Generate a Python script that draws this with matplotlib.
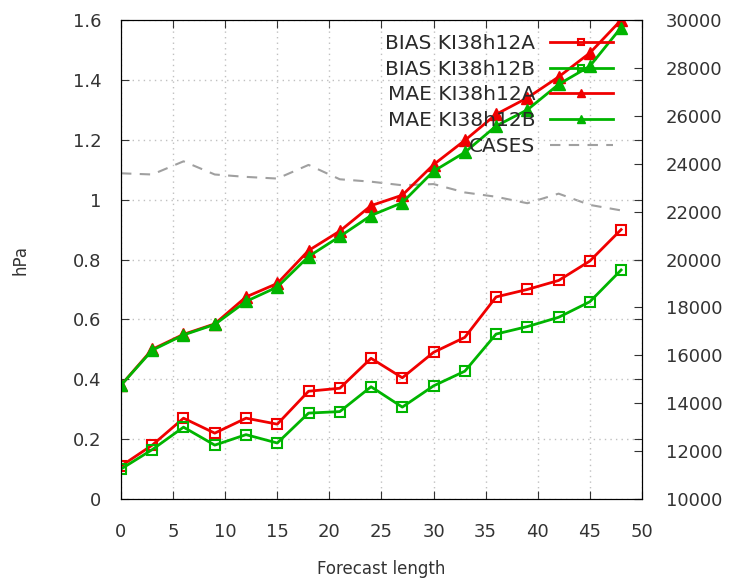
import matplotlib
matplotlib.use("Agg")
import matplotlib.pyplot as plt

# forecast hours
hours = [0, 3, 6, 9, 12, 15, 18, 21, 24, 27, 30, 33, 36, 39, 42, 45, 48]

bias_a = [0.11, 0.18, 0.27, 0.22, 0.27, 0.25, 0.36, 0.37, 0.47, 0.405, 0.49, 0.54,
          0.675, 0.70, 0.73, 0.795, 0.90]
bias_b = [0.10, 0.165, 0.24, 0.18, 0.215, 0.187, 0.287, 0.292, 0.375, 0.307, 0.378, 0.427,
          0.551, 0.576, 0.607, 0.659, 0.765]
mae_a = [0.38, 0.50, 0.55, 0.585, 0.675, 0.72, 0.83, 0.895, 0.98, 1.015, 1.117, 1.198,
         1.285, 1.34, 1.41, 1.49, 1.60]
mae_b = [0.38, 0.497, 0.548, 0.583, 0.66, 0.708, 0.81, 0.877, 0.947, 0.99, 1.095, 1.158,
         1.246, 1.30, 1.385, 1.446, 1.575]
cases = [23600, 23550, 24100, 23550, 23450, 23380, 23950, 23350, 23250, 23100, 23150, 22800,
         22620, 22350, 22750, 22280, 22050]

labels = ["BIAS KI38h12A", "BIAS KI38h12B", "MAE KI38h12A", "MAE KI38h12B", "CASES"]

red = "#f00000"
green = "#00b400"

fig = plt.figure(figsize=(7.31, 5.82), dpi=100)
ax = fig.add_axes([0.1655, 0.1426, 0.7127, 0.823])
ax2 = ax.twinx()

# cases on the right axis, drawn first
ax2.plot(hours, cases, color="#a0a0a0", lw=1.5, dashes=(5, 4), zorder=1)
ax2.set_ylim(10000, 30000)
ax2.set_yticks(range(10000, 30001, 2000))

ax.set_zorder(ax2.get_zorder() + 1)
ax.patch.set_visible(False)

l1, = ax.plot(hours, bias_a, color=red, lw=2, marker="s", ms=7, mfc="none", mew=1.5)
l2, = ax.plot(hours, bias_b, color=green, lw=2, marker="s", ms=7, mfc="none", mew=1.5)
l3, = ax.plot(hours, mae_a, color=red, lw=2, marker="^", ms=9)
l4, = ax.plot(hours, mae_b, color=green, lw=2, marker="^", ms=9)
l5, = ax.plot([], [], color="#a0a0a0", lw=1.5, dashes=(5, 4))

ax.set_xlim(0, 50)
ax.set_ylim(0, 1.6)
ax.set_xticks(range(0, 51, 5))
ax.set_yticks([0, 0.2, 0.4, 0.6, 0.8, 1.0, 1.2, 1.4, 1.6])
ax.set_yticklabels(["0", "0.2", "0.4", "0.6", "0.8", "1", "1.2", "1.4", "1.6"])
ax.grid(True, color="#c0c0c0", linestyle=(0, (1, 3)), lw=1)

ax.tick_params(direction="in", length=6, labelsize=13, pad=14, top=True, right=True,
               colors="#333333")
ax.tick_params(axis="x", pad=17)
ax2.tick_params(direction="in", length=6, labelsize=13, pad=17, colors="#333333")

ax.set_xlabel("Forecast length", fontsize=12, labelpad=14, color="#333333")
ax.set_ylabel("hPa", fontsize=12, labelpad=31, color="#333333")

leg = ax.legend([l1, l2, l3, l4, l5], labels, loc="upper right",
                bbox_to_anchor=(0.967, 0.996), frameon=False, markerfirst=False,
                fontsize=14.5, labelspacing=0.33, handlelength=3.1, handletextpad=0.75,
                borderaxespad=0.2, alignment="right", markerscale=0.65)
for t in leg.get_texts():
    t.set_color("#2a2a2a")

plt.savefig("out.png", dpi=100)
